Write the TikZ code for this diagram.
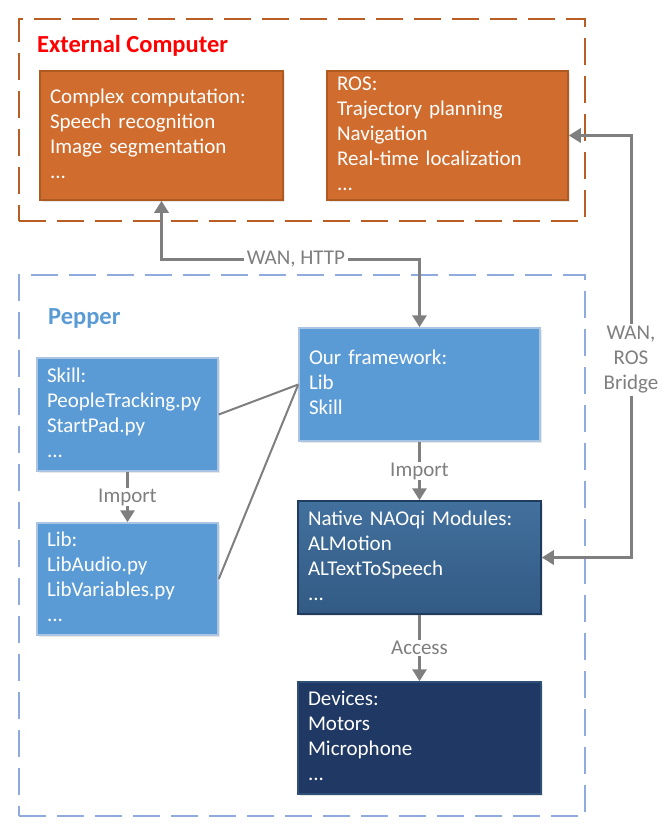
\documentclass[tikz,border=0pt]{standalone}
\usepackage{fontspec}
\setmainfont{Carlito}
\usetikzlibrary{arrows.meta,shadows}
\definecolor{orfill}{RGB}{208,108,46}
\definecolor{ordraw}{RGB}{174,90,33}
\definecolor{extdash}{RGB}{184,94,36}
\definecolor{bluefill}{RGB}{91,155,213}
\definecolor{bluedraw}{RGB}{170,196,228}
\definecolor{pepdash}{RGB}{143,170,220}
\definecolor{peptext}{RGB}{91,155,213}
\definecolor{naotop}{RGB}{66,112,157}
\definecolor{naobot}{RGB}{50,90,132}
\definecolor{naodraw}{RGB}{31,60,94}
\definecolor{devfill}{RGB}{32,56,100}
\definecolor{devdraw}{RGB}{46,80,118}
\definecolor{conn}{RGB}{127,127,127}
\tikzset{
  box/.style={rectangle, draw, line width=1.5pt, text=white, align=left,
    inner xsep=10pt, inner ysep=0pt, font=\fontsize{21}{25}\selectfont,
    drop shadow={opacity=0.18, shadow xshift=2pt, shadow yshift=-2pt}},
  orbox/.style={box, fill=orfill, draw=ordraw},
  bluebox/.style={box, fill=bluefill, draw=bluedraw},
  naobox/.style={box, top color=naotop, bottom color=naobot, draw=naodraw},
  devbox/.style={box, fill=devfill, draw=devdraw},
  frame/.style={rectangle, line width=2pt, dash pattern=on 27pt off 11pt, inner sep=0pt},
  extframe/.style={frame, draw=extdash},
  pepframe/.style={frame, draw=pepdash},
  title/.style={anchor=base west, inner sep=0pt, font=\bfseries\fontsize{24.5}{29}\selectfont},
  conn/.style={draw=conn, line width=3pt},
  arr/.style={conn, -{Triangle[width=14pt,length=12pt]}},
  biarr/.style={conn, {Triangle[width=14pt,length=12pt]}-{Triangle[width=14pt,length=12pt]}},
  thinconn/.style={draw=conn, line width=2pt},
  lbl/.style={fill=white, text=conn, font=\fontsize{21}{25}\selectfont, inner xsep=3pt, inner ysep=1pt}
}
\begin{document}
\begin{tikzpicture}[x=1pt,y=-1pt]
\useasboundingbox (0,0) rectangle (672,838);
% frames
\node[extframe, minimum width=566pt, minimum height=202pt] (ext) at (302,120) {};
\node[pepframe, minimum width=566pt, minimum height=541pt] (pep) at (302,545.5) {};
\node[title, text=red] (exttitle) at (37,52.5) {External Computer};
\node[title, text=peptext] (peptitle) at (48,324) {Pepper};
% boxes
\node[orbox, minimum width=243pt, minimum height=129pt, text width=223pt] (comp) at (161.5,135.5)
  {\strut Complex computation:\\Speech recognition\\Image segmentation\\...\strut};
\node[orbox, minimum width=241pt, minimum height=129pt, text width=221pt] (ros) at (447.5,135.5)
  {\strut ROS:\\Trajectory planning\\Navigation\\Real-time localization\\...\strut};
\node[bluebox, minimum width=181pt, minimum height=113pt, text width=161pt] (skill) at (127.5,414.5)
  {\strut Skill:\\PeopleTracking.py\\StartPad.py\\...\strut};
\node[bluebox, minimum width=181pt, minimum height=112pt, text width=161pt] (lib) at (127.5,579)
  {\strut Lib:\\LibAudio.py\\LibVariables.py\\...\strut};
\node[bluebox, minimum width=241pt, minimum height=113pt, text width=221pt] (fw) at (419.5,384.5)
  {\strut Our framework:\\Lib\\Skill\strut};
\node[naobox, minimum width=243pt, minimum height=113pt, text width=223pt] (naoqi) at (419.5,557.5)
  {\strut Native NAOqi Modules:\\ALMotion\\ALTextToSpeech\\...\strut};
\node[devbox, minimum width=243pt, minimum height=112pt, text width=223pt] (dev) at (419.5,738)
  {\strut Devices:\\Motors\\Microphone\\...\strut};
% connectors
\coordinate (wanL) at (161.5,259);
\coordinate (wanR) at (419.5,259);
\draw[biarr] (comp.south) -- (wanL) -- (wanR) -- (fw.north);
\node[lbl] (wanlbl) at (296,259) {WAN, HTTP};
\coordinate (rosT) at (631,135.5);
\coordinate (rosB) at (631,557.5);
\draw[biarr] (ros.east) -- (rosT) -- (rosB) -- (naoqi.east);
\node[lbl, align=center, inner ysep=2pt] (roslbl) at (631,360) {WAN,\\ROS\\Bridge};
\draw[arr] (skill.south) -- node[lbl] (imp1) {Import} (lib.north);
\draw[arr] (fw.south) -- node[lbl] (imp2) {Import} (naoqi.north);
\draw[arr] (naoqi.south) -- node[lbl] (acc) {Access} (dev.north);
\draw[thinconn] (skill.east) -- (fw.west);
\draw[thinconn] (lib.east) -- (fw.west);
\end{tikzpicture}
\end{document}
